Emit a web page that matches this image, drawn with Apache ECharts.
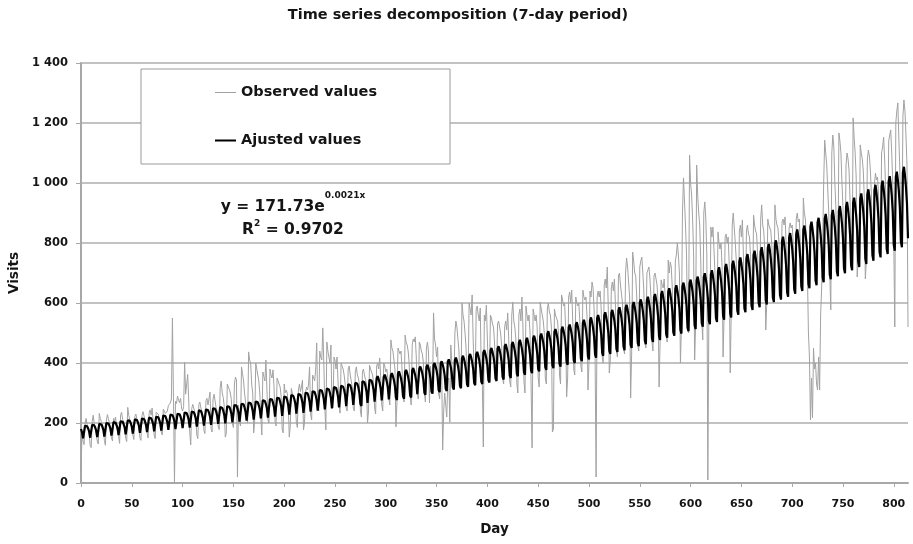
<!DOCTYPE html>
<html>
<head>
<meta charset="utf-8">
<script src="https://cdn.jsdelivr.net/npm/echarts/dist/echarts.min.js"></script>
<style>html,body{margin:0;padding:0;background:#fff}#c{width:913px;height:544px}</style>
</head>
<body>
<div id="c"></div>
<script>
// ---- text ----
const titleText = 'Time series decomposition (7-day period)';
const seriesNames = ['Observed values', 'Ajusted values'];
const xAxisName = 'Day';
const yAxisName = 'Visits';
const eqMain = 'y = 171.73e';
const eqExp = '0.0021x';
const r2Main = 'R';
const r2Exp = '2';
const r2Value = ' = 0.9702';

// ---- axis ticks ----
const yMin = 0, yMax = 1400, yStep = 200;
const xStep = 50;

// ---- data: daily visits (day index = position) ----
const observed = [
40,165,140,128,200,215,195,
190,170,125,118,205,226,198,
182,176,140,130,232,215,205,
196,180,142,126,210,228,214,
200,170,150,140,215,206,220,
190,185,155,132,228,236,212,
205,178,150,138,252,226,210,
198,190,160,145,222,230,214,
206,184,150,142,225,238,240,
210,196,168,150,232,244,226,
250,205,160,148,236,240,230,
215,200,170,160,246,252,232,
228,240,258,262,267,280,550,
285,0,272,265,290,276,268,
282,250,240,255,402,296,290,
362,280,170,127,248,262,250,
236,220,160,148,262,270,250,
240,225,175,165,275,282,260,
262,303,182,170,280,296,290,
250,240,190,178,318,340,300,
285,255,153,165,330,320,312,
300,278,200,185,330,353,345,
20,260,205,190,387,365,340,
300,270,230,200,437,410,400,
330,300,167,210,400,380,360,
340,300,220,160,370,355,340,
410,310,210,200,380,360,350,
377,320,205,190,350,340,330,
320,290,180,167,330,300,310,
300,260,153,190,315,300,290,
285,270,200,185,310,330,305,
320,343,177,200,300,320,310,
330,387,230,210,360,350,340,
380,467,260,240,440,420,410,
517,400,250,177,470,440,420,
400,460,260,250,420,410,380,
420,340,260,233,400,390,380,
360,330,250,240,380,390,360,
340,320,250,240,370,387,360,
350,330,240,220,370,380,360,
345,330,200,240,393,380,370,
360,330,250,230,390,400,380,
417,350,260,240,400,390,370,
380,350,280,260,477,450,440,
410,380,187,270,450,440,430,
440,380,300,270,493,470,460,
440,400,290,260,460,480,470,
487,420,300,280,470,460,440,
430,400,300,270,450,470,440,
267,390,330,300,567,480,460,
420,453,300,280,400,380,110,
240,300,260,220,330,350,203,
460,400,330,310,500,540,520,
480,440,340,320,600,560,540,
500,450,350,330,600,580,560,
627,480,360,340,580,590,560,
540,583,360,340,120,560,540,
593,480,370,350,560,550,530,
520,470,380,360,530,540,543,
500,460,350,330,520,540,510,
567,480,340,320,560,603,540,
520,480,330,300,560,580,540,
620,520,340,300,590,560,540,
560,500,330,117,580,560,540,
560,520,350,320,603,580,560,
540,500,350,330,580,600,570,
560,520,170,180,580,560,550,
540,500,360,330,627,610,590,
600,520,287,350,620,637,600,
643,540,380,360,620,600,590,
600,540,390,370,643,620,610,
620,560,310,400,640,620,670,
650,580,420,20,620,640,620,
640,580,420,400,660,680,650,
720,580,367,410,650,670,640,
680,600,440,420,690,700,660,
660,600,450,430,700,750,720,
720,620,283,430,770,740,700,
690,620,460,440,720,740,753,
700,640,470,450,700,710,720,
680,620,470,440,690,700,680,
660,600,320,470,677,660,650,
680,620,490,470,743,700,737,
720,650,500,490,740,760,800,
760,700,400,520,900,1017,940,
860,760,520,500,1093,1000,960,
880,760,410,530,1060,960,900,
860,740,540,477,900,937,880,
760,10,560,540,853,820,853,
780,700,560,540,837,800,780,
800,720,420,560,820,830,800,
820,730,367,570,860,900,850,
800,740,580,560,840,860,820,
877,760,590,570,840,860,830,
820,760,600,580,893,860,840,
830,760,610,590,880,927,860,
840,780,510,600,880,860,850,
840,790,620,600,927,880,860,
850,800,630,610,870,880,860,
887,800,640,620,850,867,850,
860,800,650,630,880,900,870,
880,800,660,640,950,900,880,
800,700,500,420,210,350,217,
450,380,400,330,310,420,310,
560,650,800,1000,1143,1100,1060,
980,900,700,577,1100,1160,1120,
1000,920,720,700,1167,1140,1100,
1000,920,730,700,1060,1100,1080,
1040,940,740,720,1217,1150,1100,
1020,687,750,730,1127,1100,1080,
1040,950,680,740,1080,1110,1090,
1040,960,770,750,1000,1033,1010,
1020,960,780,760,1100,1120,1153,
1080,980,790,770,1140,1160,1177,
1100,1000,800,520,1200,1240,1267,
1150,1040,820,800,1220,1277,1240,
1160,1060,520
];

const adjusted = [
180,169,149,145,
191,195,189,182,172,151,147,
194,198,192,185,174,153,150,
197,200,195,188,177,155,152,
200,203,198,191,180,158,154,
203,206,201,193,182,160,156,
206,210,204,196,185,162,159,
209,213,207,199,188,165,161,
212,216,210,202,191,167,163,
215,219,213,205,193,170,166,
218,222,216,208,196,172,168,
221,226,219,211,199,175,171,
225,229,223,214,202,177,173,
228,232,226,218,205,180,176,
231,236,229,221,208,183,178,
235,239,233,224,211,185,181,
238,243,236,227,214,188,184,
242,246,240,231,217,191,186,
245,250,243,234,221,194,189,
249,254,247,238,224,197,192,
253,257,250,241,227,199,195,
256,261,254,245,231,202,198,
260,265,258,248,234,205,201,
264,269,262,252,237,208,204,
268,273,266,256,241,211,207,
272,277,269,259,245,215,210,
276,281,273,263,248,218,213,
280,285,278,267,252,221,216,
284,289,282,271,256,224,219,
288,294,286,275,259,228,222,
293,298,290,279,263,231,226,
297,302,294,283,267,234,229,
301,307,299,288,271,238,232,
306,311,303,292,275,241,236,
310,316,308,296,279,245,239,
315,321,312,301,283,249,243,
320,326,317,305,287,252,246,
324,330,321,310,292,256,250,
329,335,326,314,296,260,254,
334,340,331,319,300,264,257,
339,345,336,323,305,267,261,
344,350,341,328,309,271,265,
349,356,346,333,314,275,269,
354,361,351,338,318,279,273,
359,366,356,343,323,284,277,
365,372,361,348,328,288,281,
370,377,367,353,333,292,285,
376,383,372,358,338,296,290,
381,388,378,364,343,301,294,
387,394,383,369,348,305,298,
393,400,389,375,353,310,303,
398,406,395,380,358,314,307,
404,412,401,386,363,319,312,
410,418,407,391,369,324,316,
416,424,413,397,374,329,321,
422,430,419,403,380,333,326,
429,437,425,409,385,338,330,
435,443,431,415,391,343,335,
441,450,437,421,397,348,340,
448,456,444,427,403,353,345,
455,463,450,434,409,359,350,
461,470,457,440,415,364,356,
468,477,464,447,421,369,361,
475,484,471,453,427,375,366,
482,491,478,460,434,380,372,
489,498,485,467,440,386,377,
497,506,492,474,446,392,383,
504,513,499,481,453,398,388,
511,521,507,488,460,403,394,
519,528,514,495,467,409,400,
527,536,522,502,473,415,406,
534,544,530,510,480,422,412,
542,552,537,517,488,428,418,
550,560,545,525,495,434,424,
559,569,553,533,502,441,430,
567,577,561,541,510,447,437,
575,586,570,549,517,454,443,
584,594,578,557,525,460,450,
592,603,587,565,533,467,456,
601,612,596,573,540,474,463,
610,621,604,582,548,481,470,
619,630,613,591,556,488,477,
628,640,622,599,565,496,484,
637,649,632,608,573,503,491,
647,659,641,617,582,510,498,
656,668,650,626,590,518,506,
666,678,660,636,599,526,513,
676,688,670,645,608,533,521,
686,699,680,655,617,541,529,
696,709,690,664,626,549,537,
706,719,700,674,635,557,544,
717,730,710,684,645,566,552,
727,741,721,694,654,574,561,
738,752,731,704,664,582,569,
749,763,742,715,674,591,577,
760,774,753,725,684,600,586,
772,786,764,736,694,609,595,
783,797,776,747,704,618,603,
795,809,787,758,714,627,612,
806,821,799,769,725,636,621,
818,833,811,781,736,646,631,
830,845,823,792,746,655,640,
843,858,835,804,758,665,649,
855,871,847,816,769,675,659,
868,884,860,828,780,685,669,
880,897,872,840,792,695,679,
893,910,885,852,803,705,689,
907,923,898,865,815,715,699,
920,937,912,878,827,726,709,
934,951,925,891,840,737,720,
948,965,939,904,852,748,730,
962,979,953,917,865,759,741,
976,994,967,931,877,770,752,
990,1008,981,945,890,781,763,
1005,1023,996,959,903,793,774,
1020,1038,1010,973,917,805,786,
1035,1054,1025,987,930,816
];

// ---- chart ----
const FONT = '"DejaVu Sans", "Liberation Sans", sans-serif';
const TXT = '#151515';
const OBS_COLOR = '#a2a2a2';
const ADJ_COLOR = '#000000';
const chart = echarts.init(document.getElementById('c'), null, { renderer: 'canvas', width: 913, height: 544 });
const thousands = v => String(v).replace(/\B(?=(\d{3})+(?!\d))/g, ' ');

const option = {
  animation: false,
  backgroundColor: '#ffffff',
  grid: { left: 81, right: 5, top: 63, bottom: 61, containLabel: false, outerBoundsMode: 'none' },
  legend: {
    orient: 'vertical',
    left: 141, top: 69,
    padding: [16, 73, 16, 74],
    itemGap: 33,
    itemWidth: 21, itemHeight: 14,
    backgroundColor: '#ffffff',
    borderColor: '#9a9a9a', borderWidth: 1,
    textStyle: { fontFamily: FONT, fontWeight: 'bold', fontSize: 14.5, color: TXT },
    data: [
      { name: seriesNames[0], icon: 'path://M0,0H21V1H0Z', itemStyle: { color: OBS_COLOR, borderWidth: 0 } },
      { name: seriesNames[1], icon: 'path://M0,0H21V2H0Z', itemStyle: { color: ADJ_COLOR, borderWidth: 0 } }
    ],
    selectedMode: false
  },
  xAxis: {
    type: 'value', min: 0, max: observed.length - 1, interval: xStep,
    name: xAxisName, nameLocation: 'middle', nameGap: 39,
    nameTextStyle: { fontFamily: FONT, fontWeight: 'bold', fontSize: 13.5, color: TXT },
    axisLine: { show: true, onZero: false, lineStyle: { color: '#a8a8a8', width: 2 } },
    axisTick: { show: true, length: 4, lineStyle: { color: '#a8a8a8', width: 1 } },
    axisLabel: { showMaxLabel: false, margin: 16, fontFamily: FONT, fontWeight: 'bold', fontSize: 11, color: TXT },
    splitLine: { show: false }
  },
  yAxis: {
    type: 'value', min: yMin, max: yMax, interval: yStep,
    name: yAxisName, nameLocation: 'middle', nameGap: 60, nameRotate: 90,
    nameTextStyle: { fontFamily: FONT, fontWeight: 'bold', fontSize: 13.5, color: TXT },
    axisLine: { show: true, lineStyle: { color: '#a8a8a8', width: 2 } },
    axisTick: { show: true, length: 5, lineStyle: { color: '#a8a8a8', width: 1 } },
    axisLabel: { margin: 13, fontFamily: FONT, fontWeight: 'bold', fontSize: 11.5, color: TXT, formatter: thousands },
    splitLine: { show: true, lineStyle: { color: '#c2c2c2', width: 2 } }
  },
  series: [
    {
      name: seriesNames[0], type: 'line', symbol: 'none', showSymbol: false,
      data: observed.map((v, i) => [i, v]),
      lineStyle: { color: OBS_COLOR, width: 1 }, itemStyle: { color: OBS_COLOR },
      emphasis: { disabled: true }, z: 2
    },
    {
      name: seriesNames[1], type: 'line', symbol: 'none', showSymbol: false,
      data: adjusted.map((v, i) => [i, v]),
      lineStyle: { color: ADJ_COLOR, width: 2.2 }, itemStyle: { color: ADJ_COLOR },
      emphasis: { disabled: true }, z: 3
    }
  ],
  graphic: [
    {
      type: 'text', x: 458, y: 15, z: 100,
      style: { text: titleText, align: 'center', verticalAlign: 'middle',
        fontFamily: FONT, fontWeight: 'bold', fontSize: 14.5, fill: TXT }
    },
    {
      type: 'text', x: 293, y: 191, z: 100,
      style: {
        text: '{m|' + eqMain + '}{s|' + eqExp + '}',
        align: 'center', verticalAlign: 'top',
        rich: {
          m: { fontFamily: FONT, fontWeight: 'bold', fontSize: 15.5, lineHeight: 32, fill: TXT },
          s: { fontFamily: FONT, fontWeight: 'bold', fontSize: 9, lineHeight: 32, verticalAlign: 'top', fill: TXT }
        }
      }
    },
    {
      type: 'text', x: 293, y: 219, z: 100,
      style: {
        text: '{m|' + r2Main + '}{s|' + r2Exp + '}{m|' + r2Value + '}',
        align: 'center', verticalAlign: 'top',
        rich: {
          m: { fontFamily: FONT, fontWeight: 'bold', fontSize: 15.5, lineHeight: 22, fill: TXT },
          s: { fontFamily: FONT, fontWeight: 'bold', fontSize: 9, lineHeight: 22, verticalAlign: 'top', fill: TXT }
        }
      }
    }
  ]
};
chart.setOption(option);
</script>
</body>
</html>
